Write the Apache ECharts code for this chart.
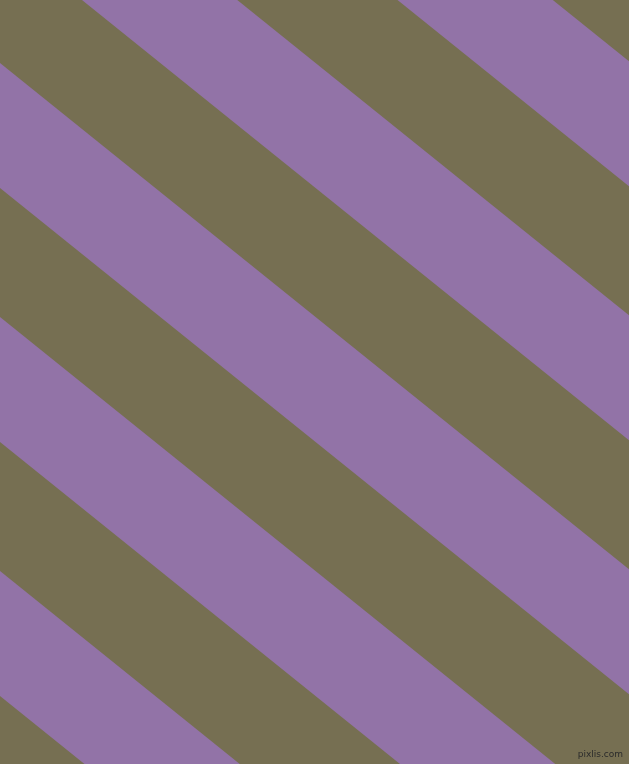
<!DOCTYPE html>
<html>
<head>
<meta charset="utf-8">
<script src="https://cdn.jsdelivr.net/npm/echarts@6/dist/echarts.min.js"></script>
<style>
  html, body { margin: 0; padding: 0; background: #766f52; }
  #chart { width: 629px; height: 764px; }
</style>
</head>
<body>
<div id="chart"></div>
<script>
// purple bands: where each edge meets the left side (y at x = 0)
const bandTop = [-445, -191, 63, 317, 571];
const bandBottom = [-320, -66, 188, 442, 696];
// how fast the stripes fall per pixel to the right
const stripeSlope = 0.805;

const chartDom = document.getElementById("chart");
const myChart = echarts.init(chartDom);

const bands = bandTop.map((t, i) => [t, bandBottom[i]]);

const option = {
  backgroundColor: "#766f52",
  animation: false,
  grid: { left: 0, right: 0, top: 0, bottom: 0 },
  xAxis: { type: "value", min: 0, max: 629, show: false },
  yAxis: { type: "value", min: 0, max: 764, inverse: true, show: false },
  series: [
    {
      type: "custom",
      clip: true,
      data: bands,
      renderItem: function (params, api) {
        const t = api.value(0);
        const b = api.value(1);
        const x0 = 0;
        const x1 = 629;
        const pts = [
          api.coord([x0, t + stripeSlope * x0]),
          api.coord([x1, t + stripeSlope * x1]),
          api.coord([x1, b + stripeSlope * x1]),
          api.coord([x0, b + stripeSlope * x0])
        ];
        return {
          type: "polygon",
          shape: { points: pts },
          style: { fill: "#9273a7" }
        };
      }
    }
  ],
  graphic: [
    {
      type: "text",
      right: 6,
      bottom: 5,
      style: {
        text: "pixlis.com",
        fontSize: 9,
        fontFamily: "DejaVu Sans",
        fill: "#2b2b2b"
      }
    }
  ]
};

option && myChart.setOption(option);
</script>
</body>
</html>
